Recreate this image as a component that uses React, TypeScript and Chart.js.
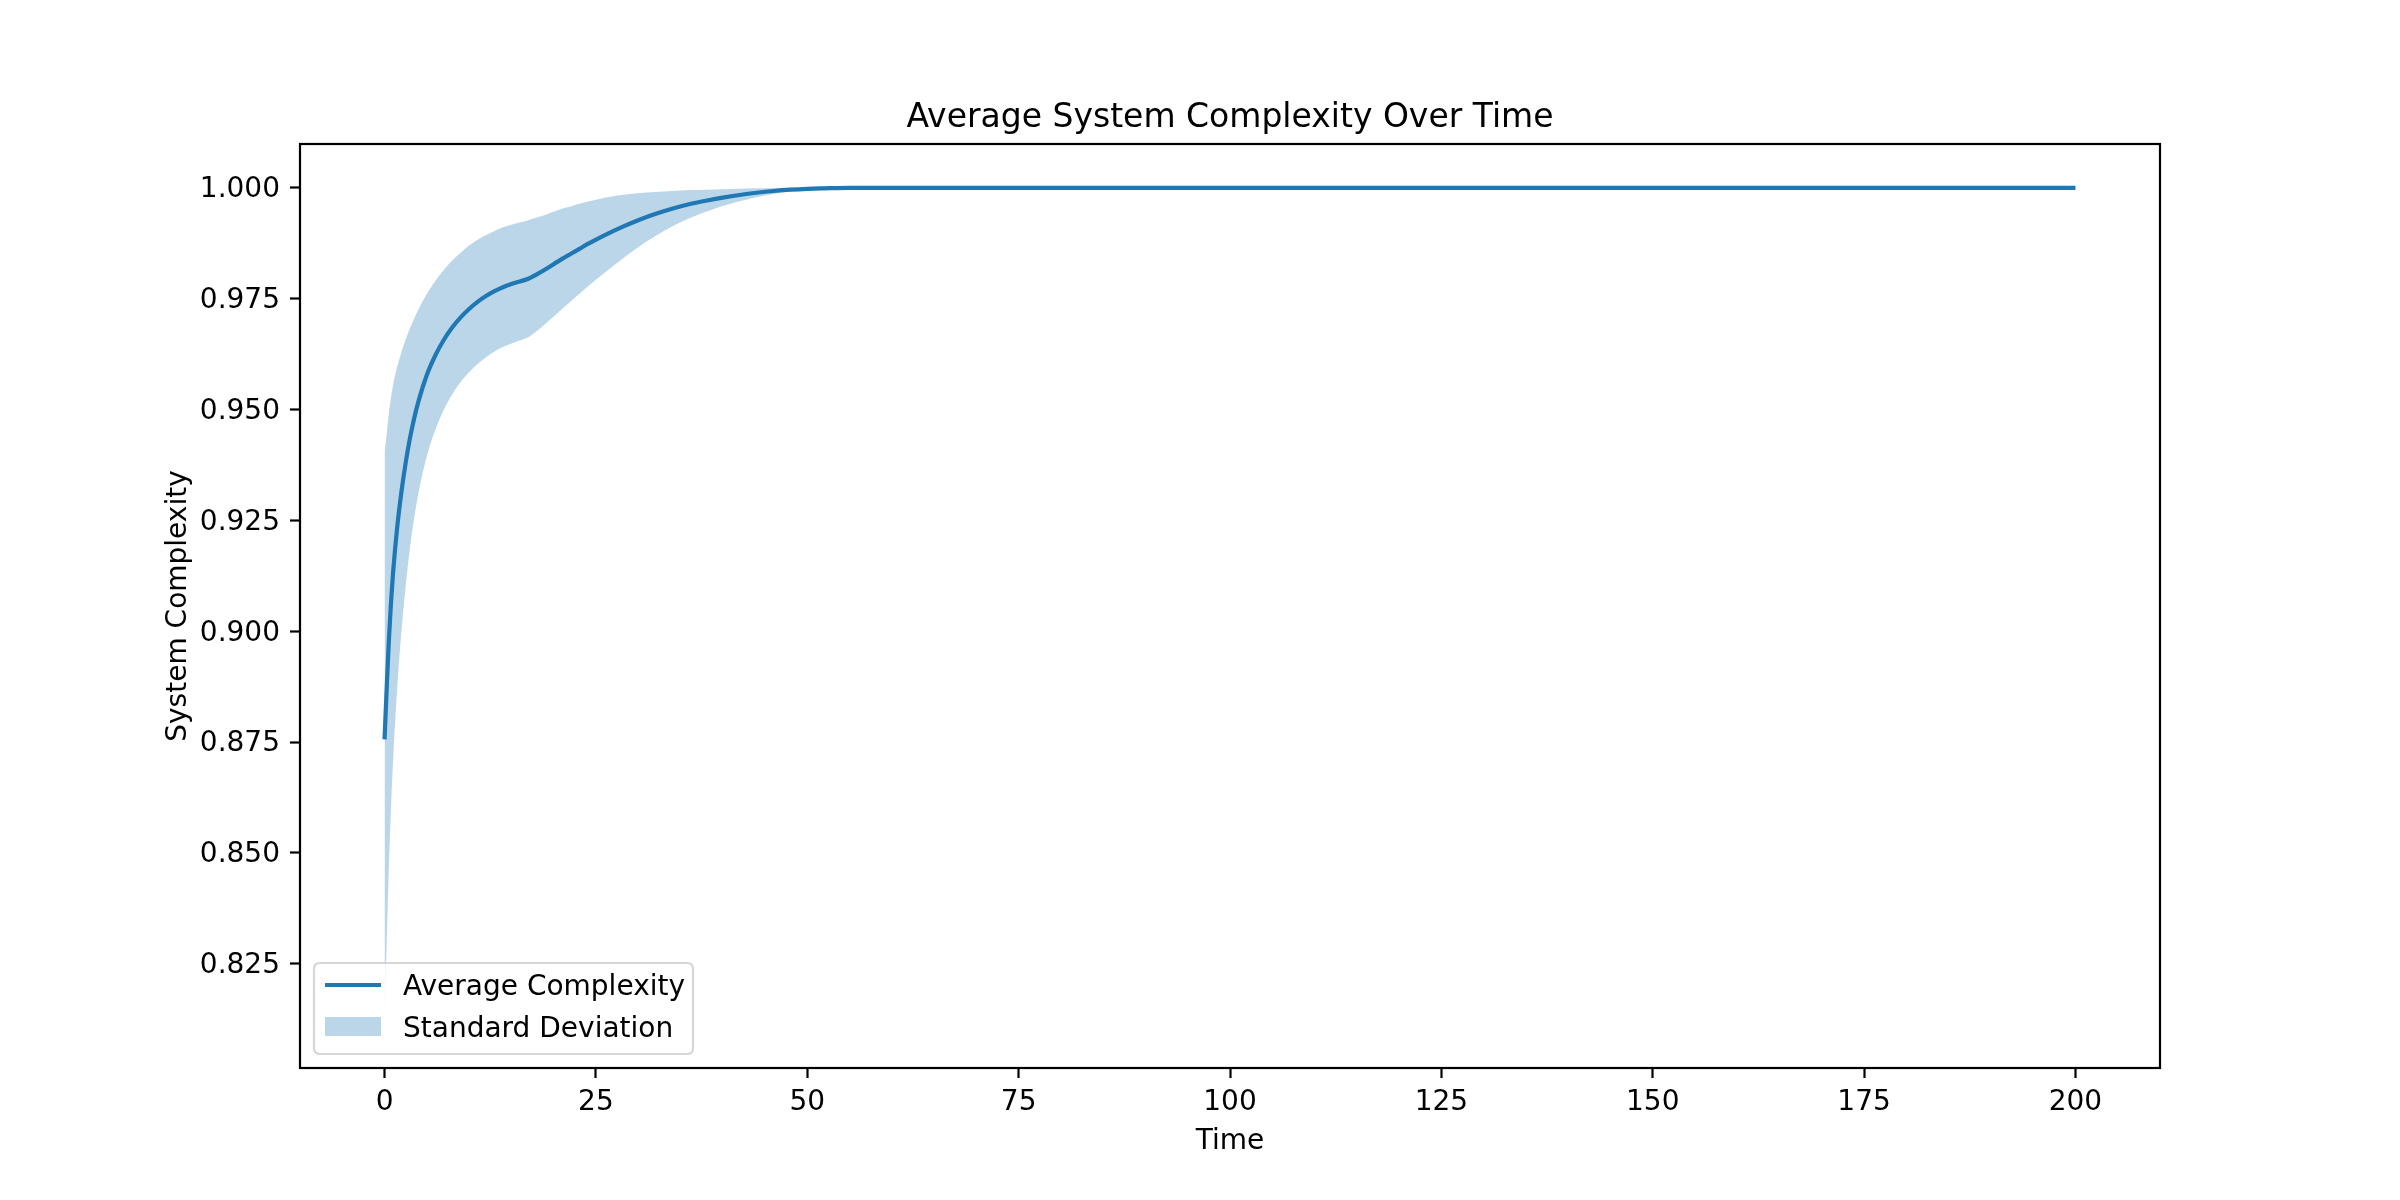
import React, { useEffect, useRef } from 'react';
import { Chart, registerables } from 'chart.js';

Chart.register(...registerables);

// ---- data ----
const timePoints = [
  0, 0.25, 0.5, 0.75, 1, 1.5, 2, 2.5, 3, 3.5, 4, 5, 6, 7, 8, 9, 10, 11, 12, 13,
  14, 15, 16, 17, 18, 19, 20, 21, 22, 23, 24, 26, 28, 30, 32, 34, 36, 38, 40,
  42, 44, 46, 48, 50, 52, 55, 60, 80, 100, 120, 140, 160, 180, 200,
];
const meanComplexity = [
  0.8756, 0.887, 0.8975, 0.906, 0.913, 0.9235, 0.9315, 0.938, 0.9435, 0.948,
  0.9518, 0.9578, 0.9622, 0.9657, 0.9685, 0.9708, 0.9727, 0.9743, 0.9756,
  0.9767, 0.9776, 0.9783, 0.9789, 0.9795, 0.9805, 0.9816, 0.9828, 0.984,
  0.9851, 0.9862, 0.9873, 0.9893, 0.9911, 0.9927, 0.9941, 0.9953, 0.9963,
  0.9971, 0.9978, 0.9984, 0.9989, 0.9993, 0.9996, 0.9998, 0.9999, 1.0, 1.0,
  1.0, 1.0, 1.0, 1.0, 1.0, 1.0, 1.0,
];
const stdComplexity = [
  0.0645, 0.0575, 0.0515, 0.0465, 0.0425, 0.0362, 0.0315, 0.0278, 0.0248,
  0.0225, 0.0207, 0.0183, 0.0168, 0.0158, 0.0151, 0.0146, 0.0143, 0.014,
  0.0138, 0.0136, 0.0135, 0.0134, 0.0133, 0.0132, 0.0128, 0.0123, 0.0118,
  0.0113, 0.0107, 0.0102, 0.0096, 0.0085, 0.0073, 0.0061, 0.005, 0.004,
  0.0032, 0.0025, 0.0019, 0.0014, 0.001, 0.0007, 0.0004, 0.0002, 0.0001, 0,
  0, 0, 0, 0, 0, 0, 0, 0,
];
const xTickValues = [0, 25, 50, 75, 100, 125, 150, 175, 200];
const yTickValues = [0.825, 0.85, 0.875, 0.9, 0.925, 0.95, 0.975, 1.0];

const TITLE = 'Average System Complexity Over Time';
const X_LABEL = 'Time';
const Y_LABEL = 'System Complexity';
const LINE_LABEL = 'Average Complexity';
const BAND_LABEL = 'Standard Deviation';

const FONT = '"DejaVu Sans", "Liberation Sans", sans-serif';
const BLUE = '#1f77b4';
const BAND = 'rgba(31,119,180,0.3)';

export default function App() {
  const canvasRef = useRef<HTMLCanvasElement>(null);

  useEffect(() => {
    const canvas = canvasRef.current;
    if (!canvas) return;

    const meanPts = timePoints.map((t, i) => ({ x: t, y: meanComplexity[i] }));
    const lowerPts = timePoints.map((t, i) => ({ x: t, y: meanComplexity[i] - stdComplexity[i] }));
    const upperPts = timePoints.map((t, i) => ({ x: t, y: meanComplexity[i] + stdComplexity[i] }));

    const decor = {
      id: 'mplDecor',
      afterDraw(chart: any) {
        const ctx = chart.ctx as CanvasRenderingContext2D;
        const a = chart.chartArea;
        ctx.save();
        // frame
        ctx.strokeStyle = '#000';
        ctx.lineWidth = 2.2;
        ctx.strokeRect(a.left, a.top, a.right - a.left, a.bottom - a.top);

        // title
        ctx.fillStyle = '#000';
        ctx.font = `33px ${FONT}`;
        ctx.textAlign = 'center';
        ctx.textBaseline = 'alphabetic';
        ctx.fillText(TITLE, (a.left + a.right) / 2, a.top - 17);

        // x label
        ctx.font = `28px ${FONT}`;
        ctx.fillText(X_LABEL, (a.left + a.right) / 2, 1149);

        // y label
        ctx.save();
        ctx.translate(186, (a.top + a.bottom) / 2);
        ctx.rotate(-Math.PI / 2);
        ctx.fillText(Y_LABEL, 0, 0);
        ctx.restore();

        // legend
        const lx = 314, ly = 963, lw = 379, lh = 91, r = 6;
        ctx.beginPath();
        ctx.moveTo(lx + r, ly);
        ctx.lineTo(lx + lw - r, ly);
        ctx.quadraticCurveTo(lx + lw, ly, lx + lw, ly + r);
        ctx.lineTo(lx + lw, ly + lh - r);
        ctx.quadraticCurveTo(lx + lw, ly + lh, lx + lw - r, ly + lh);
        ctx.lineTo(lx + r, ly + lh);
        ctx.quadraticCurveTo(lx, ly + lh, lx, ly + lh - r);
        ctx.lineTo(lx, ly + r);
        ctx.quadraticCurveTo(lx, ly, lx + r, ly);
        ctx.closePath();
        ctx.fillStyle = 'rgba(255,255,255,0.8)';
        ctx.fill();
        ctx.strokeStyle = 'rgba(204,204,204,0.8)';
        ctx.lineWidth = 2.2;
        ctx.stroke();

        ctx.strokeStyle = BLUE;
        ctx.lineWidth = 4.2;
        ctx.beginPath();
        ctx.moveTo(325, 985);
        ctx.lineTo(381, 985);
        ctx.stroke();

        ctx.fillStyle = BAND;
        ctx.fillRect(325, 1017, 56, 19);

        ctx.fillStyle = '#000';
        ctx.font = `28px ${FONT}`;
        ctx.textAlign = 'left';
        ctx.textBaseline = 'middle';
        ctx.fillText(LINE_LABEL, 403, 988);
        ctx.fillText(BAND_LABEL, 403, 1030);
        ctx.restore();
      },
    };

    const tickFont = { family: FONT, size: 28 };

    const chart = new Chart(canvas, {
      type: 'line',
      data: {
        datasets: [
          {
            label: LINE_LABEL,
            data: meanPts,
            borderColor: BLUE,
            borderWidth: 4.2,
            pointRadius: 0,
            fill: false,
            cubicInterpolationMode: 'monotone',
          },
          {
            label: 'lower',
            data: lowerPts,
            borderColor: 'rgba(0,0,0,0)',
            borderWidth: 1,
            pointRadius: 0,
            fill: false,
            cubicInterpolationMode: 'monotone',
          },
          {
            label: BAND_LABEL,
            data: upperPts,
            borderColor: 'rgba(0,0,0,0)',
            borderWidth: 1,
            pointRadius: 0,
            fill: '-1',
            backgroundColor: BAND,
            cubicInterpolationMode: 'monotone',
          },
        ],
      },
      options: {
        animation: false,
        responsive: false,
        devicePixelRatio: 1,
        layout: { padding: { left: 0, right: 240, top: 144, bottom: 0 } },
        plugins: {
          legend: { display: false },
          title: { display: false },
          tooltip: { enabled: false },
          filler: { drawTime: 'beforeDatasetsDraw' },
        },
        scales: {
          x: {
            type: 'linear',
            min: -10,
            max: 210,
            afterFit: (s: any) => {
              s.height = 132;
            },
            afterBuildTicks: (s: any) => {
              s.ticks = xTickValues.map((v) => ({ value: v }));
            },
            grid: {
              display: true,
              drawOnChartArea: false,
              drawTicks: true,
              tickLength: 10,
              tickWidth: 2.2,
              tickColor: '#000',
            },
            border: { display: false },
            ticks: {
              font: tickFont,
              color: '#000',
              padding: 8,
              maxRotation: 0,
              autoSkip: false,
              callback: (v: any) => String(v),
            },
          },
          y: {
            type: 'linear',
            min: 0.8015,
            max: 1.0099,
            afterFit: (s: any) => {
              s.width = 300;
            },
            afterBuildTicks: (s: any) => {
              s.ticks = yTickValues.map((v) => ({ value: v }));
            },
            grid: {
              display: true,
              drawOnChartArea: false,
              drawTicks: true,
              tickLength: 10,
              tickWidth: 2.2,
              tickColor: '#000',
            },
            border: { display: false },
            ticks: {
              font: tickFont,
              color: '#000',
              padding: 10,
              labelOffset: 2,
              autoSkip: false,
              callback: (v: any) => Number(v).toFixed(3),
            },
          },
        },
      } as any,
      plugins: [decor],
    });

    return () => chart.destroy();
  }, []);

  return (
    <div style={{ position: 'absolute', left: 0, top: 0, width: 2400, height: 1200, background: '#fff' }}>
      <canvas ref={canvasRef} width={2400} height={1200} style={{ display: 'block', width: 2400, height: 1200 }} />
    </div>
  );
}
